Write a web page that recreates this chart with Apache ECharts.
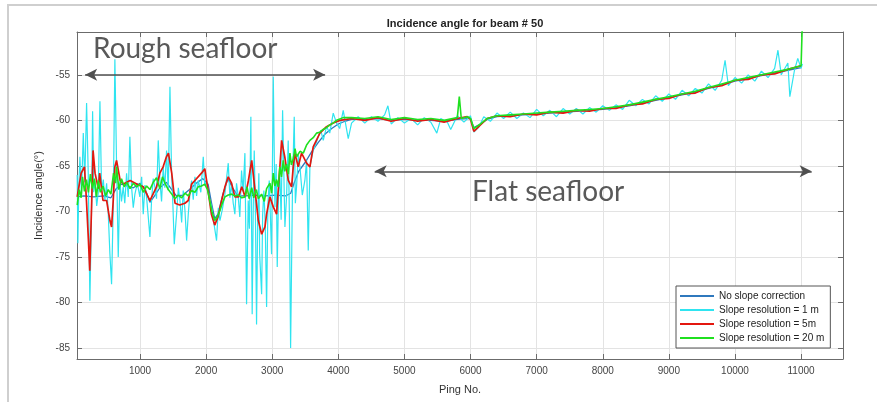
<!DOCTYPE html>
<html>
<head>
<meta charset="utf-8">
<script src="https://cdn.jsdelivr.net/npm/echarts@6/dist/echarts.min.js"></script>
</head>
<body style="margin:0;background:#fff">
<div id="main" style="width:877px;height:402px;"></div>
<script type="text/javascript">
// values (ping number, incidence angle in degrees)
var noCorrPing = [50,150,300,450,560,640,720,800,900,1000,1080,1150,1220,1300,1400,1480,1550,1650,1750,1850,1950,2030,2080,2130,2180,2250,2330,2400,2480,2600,2750,2900,3050,3200,3280,3330,3400,3500,3600,3700,3800,3900,4000,4100,
  4200,4400,4600,4800,5000,5200,5400,5600,5800,5950,6000,6050,6150,6250,6400,6600,6800,7000,7200,7400,7600,7800,8000,8200,8400,8600,8800,9000,9200,9400,9600,9800,10000,10200,10400,10600,10800,11000];
var noCorrAngle = [-68.4,-68.3,-68.4,-68.3,-68.5,-67.5,-67.0,-67.2,-67.4,-66.9,-67.6,-69.0,-68.3,-67.4,-66.8,-67.6,-68.3,-68.2,-67.6,-66.9,-66.4,-67.0,-69.0,-70.8,-70.3,-68.2,-66.4,-67.4,-68.3,-68.3,-68.2,-68.3,-68.2,-68.3,-68.0,-66.9,-65.6,-64.6,-63.4,-62.4,-61.5,-60.9,-60.4,-60.1,
  -59.9,-59.9,-59.8,-60.0,-59.9,-60.0,-60.0,-60.1,-59.9,-59.8,-59.8,-60.8,-60.4,-59.9,-59.6,-59.5,-59.4,-59.3,-59.2,-59.1,-59.0,-58.9,-58.8,-58.6,-58.4,-58.1,-57.8,-57.5,-57.2,-56.9,-56.5,-56.1,-55.7,-55.4,-55.1,-54.8,-54.5,-54.2];

var res1Ping = [50,60,75,91,115,142,165,192,217,242,268,283,300,318,345,368,394,419,445,469,495,520,545,570,595,620,646,671,696,720,746,770,797,822,847,872,898,923,960,998,1025,1049,1075,1099,1125,1150,1175,1200,1225,1250,1276,1301,1326,1351,1376,1402,1427,
  1453,1478,1500,1518,1553,1580,1604,1630,1654,1680,1705,1730,1755,1780,1805,1831,1856,1881,1920,1957,1980,2007,2045,2083,2120,2158,2185,2209,2245,2284,2310,2335,2360,2385,2410,2435,2460,2486,2510,2536,2560,2587,2612,2637,2655,2677,2697,2712,2728,2745,2763,2780,2798,2810,2840,
  2855,2874,2895,2915,2935,2955,2990,3016,3041,3060,3076,3095,3116,3135,3157,3192,3217,3242,3260,3278,3308,3333,3350,3368,3395,3419,3455,3494,3520,3545,3570,3620,3660,3696,3735,3772,3822,3870,3923,3973,4020,4074,
  4100,4150,4200,4300,4400,4500,4600,4700,4750,4800,4900,5000,5100,5200,5300,5400,5490,5550,5650,5700,5800,5900,6000,6050,6120,6200,6300,6400,6500,6600,6700,6800,6900,7000,
  7100,7200,7300,7400,7500,7600,7700,7800,7900,8000,8100,8200,8300,8400,8500,8600,8700,8800,8900,9000,9100,9200,9300,9400,9500,9600,9700,9800,9850,9900,10000,
  10100,10200,10300,10400,10500,10600,10650,10700,10800,10830,10900,10950,11000,11020];
var res1Angle = [-66.0,-73.5,-67.2,-64.0,-68.1,-61.4,-66.8,-58.1,-65.8,-79.8,-69.5,-59.0,-67.9,-66.6,-69.4,-68.0,-57.9,-67.7,-66.5,-68.8,-66.9,-70.3,-74.7,-78.0,-69.5,-53.3,-65.1,-75.0,-66.6,-68.9,-67.3,-69.1,-65.8,-68.4,-61.8,-67.3,-69.6,-68.1,-66.9,-68.4,-66.2,-70.3,-67.1,-68.4,-70.6,-72.8,-68.8,-66.4,-67.3,-68.6,-62.2,-66.6,-68.9,-65.1,-67.4,-63.3,-67.7,
  -56.3,-65.8,-69.8,-73.6,-70.3,-67.4,-68.8,-71.2,-67.7,-69.9,-73.2,-70.3,-68.1,-66.6,-68.7,-66.2,-68.3,-66.6,-67.9,-64.0,-67.2,-66.6,-68.4,-69.5,-71.4,-73.2,-69.6,-71.0,-69.8,-68.1,-66.3,-64.7,-68.5,-66.9,-69.1,-70.3,-66.9,-68.4,-70.6,-65.5,-67.8,-63.6,-80.2,-68.8,-71.9,-59.6,-81.3,-70.2,-63.3,-69.7,-82.4,-70.8,-65.8,-74.7,-79.1,
  -70.4,-67.7,-71.6,-80.5,-69.2,-66.6,-74.7,-55.2,-69.5,-64.8,-76.1,-68.3,-65.8,-70.9,-58.9,-71.7,-68.4,-62.2,-70.5,-85.0,-66.6,-59.6,-69.1,-67.3,-63.8,-65.1,-68.2,-66.6,-64.4,-74.3,-65.1,-63.3,-62.6,-61.8,-61.1,-62.2,-60.7,-61.4,-59.2,-60.3,-60.9,-58.9,
  -58.7,-62.0,-60.3,-59.6,-60.3,-59.6,-60.1,-59.4,-58.4,-60.4,-59.7,-60.3,-59.8,-60.5,-59.7,-60.2,-61.4,-59.8,-60.2,-61.0,-59.5,-60.2,-59.5,-61.3,-60.8,-59.6,-60.1,-59.2,-59.8,-59.1,-59.8,-59.2,-59.7,-58.8,
  -59.5,-58.9,-59.6,-58.7,-59.3,-58.7,-59.3,-58.6,-59.1,-58.4,-58.9,-58.3,-58.8,-57.8,-58.4,-57.7,-58.2,-57.3,-57.9,-57.1,-57.7,-56.7,-57.3,-56.5,-57.0,-56.0,-56.7,-55.6,-53.4,-56.2,-55.3,
  -55.9,-55.0,-55.7,-54.6,-55.3,-54.3,-52.3,-55.0,-53.7,-57.4,-54.5,-53.2,-54.3,-53.8];

var res5Ping = [50,110,160,190,220,240,270,290,320,370,390,440,495,545,570,595,620,645,700,750,850,950,1050,1150,1250,1300,1350,1400,1430,1480,1530,1600,1680,1730,1780,1830,1930,1980,
  2030,2080,2130,2180,2235,2285,2335,2385,2435,2490,2540,2590,2640,2690,2740,2790,2840,2890,2915,2965,3016,3066,3116,3142,3190,3243,3293,3318,3343,3393,3444,3520,3570,3620,3721,3822,3923,4024,4124,
  4200,4400,4600,4800,5000,5200,5400,5600,5800,5950,6000,6050,6150,6250,6400,6600,6800,7000,7200,7400,7600,7800,8000,8200,8400,8600,8800,9000,9200,9400,9600,9800,10000,10200,10400,10600,10800,11000];
var res5Angle = [-68.4,-65.8,-65.1,-68.8,-73.2,-76.5,-68.8,-63.3,-65.8,-67.5,-65.8,-68.8,-68.8,-71.0,-71.7,-68.8,-65.1,-64.4,-66.6,-67.0,-66.6,-67.0,-67.3,-68.8,-67.3,-65.8,-65.1,-64.0,-63.6,-65.8,-69.1,-69.3,-69.1,-68.8,-67.0,-66.6,-65.8,-65.3,
  -67.7,-70.3,-71.5,-70.6,-68.8,-67.3,-66.2,-66.9,-68.4,-68.4,-67.3,-68.4,-66.6,-64.4,-67.7,-71.0,-72.5,-71.7,-70.3,-68.4,-69.5,-70.3,-65.1,-62.2,-64.0,-66.6,-67.3,-65.1,-63.6,-65.1,-63.6,-64.7,-65.1,-62.9,-61.4,-60.7,-60.3,-60.0,-59.9,
  -59.8,-60.0,-59.7,-60.1,-59.8,-60.1,-59.9,-60.2,-59.8,-59.6,-59.9,-61.2,-60.5,-59.8,-59.5,-59.6,-59.3,-59.4,-59.1,-59.2,-58.9,-59.0,-58.7,-58.7,-58.3,-58.2,-57.7,-57.6,-57.1,-57.0,-56.4,-56.2,-55.6,-55.5,-55.0,-54.9,-54.4,-54.0];

var res20Ping = [50,80,110,130,160,190,220,250,280,310,340,370,400,440,480,520,560,600,630,645,680,720,760,800,850,900,950,1000,1050,1100,1150,1200,1250,1300,1340,1377,1420,1480,1530,1580,1630,1680,1730,1780,1830,1880,1930,1980,
  2020,2055,2090,2130,2170,2210,2250,2285,2335,2385,2440,2490,2540,2590,2620,2650,2690,2720,2760,2790,2840,2880,2915,2965,2990,3016,3040,3066,3090,3116,3140,3167,3190,3217,3245,3268,3290,3318,3345,3368,3420,3470,3520,3570,3620,3670,3720,3770,3820,3872,3920,3973,4074,
  4200,4400,4600,4800,5000,5200,5400,5600,5800,5830,5860,5950,6000,6050,6150,6250,6400,6600,6800,7000,7200,7400,7600,7800,8000,8200,8400,8600,8800,9000,9200,9400,9600,9800,10000,10200,10400,10600,10800,11000,11010,11020];
var res20Angle = [-69.3,-67.6,-68.5,-66.2,-67.8,-66.5,-67.9,-65.9,-67.5,-66.4,-68.4,-66.6,-67.9,-67.2,-68.3,-67.6,-68.1,-65.8,-66.9,-65.1,-67.6,-66.4,-67.3,-66.8,-67.5,-66.9,-67.3,-67.0,-67.9,-67.2,-67.6,-66.8,-66.3,-67.5,-66.2,-66.9,-67.5,-68.1,-68.6,-68.2,-68.5,-68.0,-68.3,-67.7,-67.9,-67.3,-67.2,-67.0,
  -67.6,-68.8,-70.1,-71.0,-70.6,-69.9,-69.0,-68.4,-68.2,-68.1,-68.3,-68.2,-68.5,-68.4,-67.3,-68.6,-67.4,-68.5,-67.6,-68.6,-68.1,-68.9,-67.5,-66.9,-68.0,-65.8,-67.2,-66.5,-67.3,-65.1,-66.2,-64.4,-65.6,-64.8,-65.9,-63.6,-64.9,-64.2,-63.1,-64.0,-63.4,-63.6,-62.7,-62.2,-61.9,-61.4,-61.3,-61.0,-60.8,-60.5,-60.3,-60.0,-59.7,
  -59.7,-59.8,-59.6,-59.9,-59.7,-59.9,-59.8,-60.0,-59.7,-57.4,-59.8,-59.6,-59.8,-60.9,-60.4,-59.8,-59.5,-59.4,-59.3,-59.2,-59.1,-59.0,-58.9,-58.8,-58.7,-58.5,-58.3,-58.0,-57.7,-57.4,-57.1,-56.8,-56.4,-56.0,-55.6,-55.3,-55.0,-54.7,-54.4,-54.0,-53.8,-49.0];

var seriesNames = ['No slope correction', 'Slope resolution = 1 m', 'Slope resolution = 5m', 'Slope resolution = 20 m'];
var seriesColors = ['#2f78bd', '#2fe4f0', '#e3170f', '#1fe01f'];
var seriesWidths = [1.3, 1.2, 1.7, 1.6];
var xTicks = [1000, 2000, 3000, 4000, 5000, 6000, 7000, 8000, 9000, 10000, 11000];
var yTicks = [-85, -80, -75, -70, -65, -60, -55];

function pairs(xs, ys) {
    return xs.map(function (x, i) { return [x, ys[i]]; });
}

var myChart = echarts.init(document.getElementById('main'));

var boxColor = '#6b6b6b';
var axisCommon = {
    type: 'value',
    min: 47,
    max: 11634,
    axisLine: { show: true, lineStyle: { color: boxColor, width: 1 } },
    axisTick: { show: true, inside: true, length: 5, customValues: xTicks, lineStyle: { color: boxColor } }
};
var yCommon = {
    type: 'value',
    min: -86.2,
    max: -50.3,
    axisLine: { show: true, lineStyle: { color: boxColor, width: 1 } },
    axisTick: { show: true, inside: true, length: 5, customValues: yTicks, lineStyle: { color: boxColor } }
};

function lineSeries(i, data) {
    return {
        name: seriesNames[i],
        type: 'line',
        data: data,
        showSymbol: false,
        symbol: 'none',
        lineStyle: { width: seriesWidths[i], color: seriesColors[i] },
        itemStyle: { color: seriesColors[i] },
        animation: false
    };
}

var arrowStyle = { color: '#4f4f4f', width: 1.6, type: 'solid' };

var green = lineSeries(3, pairs(res20Ping, res20Angle));
green.markLine = {
    silent: true,
    symbol: ['arrow', 'arrow'],
    symbolSize: [9, 12],
    label: { show: false },
    lineStyle: arrowStyle,
    data: [
        [{ coord: [170, -55.0] }, { coord: [3800, -55.0] }],
        [{ coord: [4550, -65.6] }, { coord: [11160, -65.6] }]
    ]
};

option = {
    backgroundColor: '#ffffff',
    animation: false,
    title: {
        text: 'Incidence angle for beam # 50',
        left: 460,
        top: 13,
        textAlign: 'center',
        textStyle: { fontFamily: 'Liberation Sans', fontSize: 11, fontWeight: 'bold', color: '#222' }
    },
    grid: { left: 77, top: 32, width: 766, height: 327, containLabel: false },
    legend: {
        data: seriesNames,
        orient: 'vertical',
        left: 676,
        top: 286,
        padding: [4, 6, 4, 4],
        itemGap: 2,
        itemWidth: 34,
        itemHeight: 2,
        icon: 'rect',
        backgroundColor: '#fff',
        borderColor: '#555',
        borderWidth: 1,
        textStyle: { fontFamily: 'Liberation Sans', fontSize: 10, color: '#222', lineHeight: 12 }
    },
    xAxis: [
        Object.assign({}, axisCommon, {
            position: 'bottom',
            name: 'Ping No.',
            nameLocation: 'middle',
            nameGap: 25,
            nameTextStyle: { fontFamily: 'Liberation Sans', fontSize: 11, color: '#333' },
            axisLabel: { customValues: xTicks, fontFamily: 'Liberation Sans', fontSize: 10, color: '#444', margin: 7,
                formatter: function (v) { return String(v); } },
            splitLine: { show: true, lineStyle: { color: '#e3e3e3', width: 1 } }
        }),
        Object.assign({}, axisCommon, {
            position: 'top',
            axisLabel: { show: false },
            splitLine: { show: false }
        })
    ],
    yAxis: [
        Object.assign({}, yCommon, {
            position: 'left',
            name: 'Incidence angle(\u00B0)',
            nameLocation: 'middle',
            nameGap: 25,
            nameTextStyle: { fontFamily: 'Liberation Sans', fontSize: 11, color: '#333' },
            axisLabel: { customValues: yTicks, fontFamily: 'Liberation Sans', fontSize: 10, color: '#444', margin: 7,
                formatter: function (v) { return String(v); } },
            splitLine: { show: true, lineStyle: { color: '#e3e3e3', width: 1 } }
        }),
        Object.assign({}, yCommon, {
            position: 'right',
            axisLabel: { show: false },
            splitLine: { show: false }
        })
    ],
    graphic: [
        {
            type: 'rect',
            shape: { x: 8, y: 5, width: 900, height: 420 },
            style: { fill: 'none', stroke: '#cfcfcf', lineWidth: 2 },
            silent: true,
            z: -10
        },
        {
            type: 'text',
            x: 93,
            y: 49,
            style: { text: 'Rough seafloor', font: '28px Lato', fill: '#595959', textVerticalAlign: 'middle' },
            z: 100
        },
        {
            type: 'text',
            x: 472,
            y: 192,
            style: { text: 'Flat seafloor', font: '28px Lato', fill: '#595959', textVerticalAlign: 'middle' },
            z: 100
        }
    ],
    series: [
        lineSeries(0, pairs(noCorrPing, noCorrAngle)),
        lineSeries(1, pairs(res1Ping, res1Angle)),
        lineSeries(2, pairs(res5Ping, res5Angle)),
        green
    ]
};
myChart.setOption(option);
</script>
</body>
</html>
